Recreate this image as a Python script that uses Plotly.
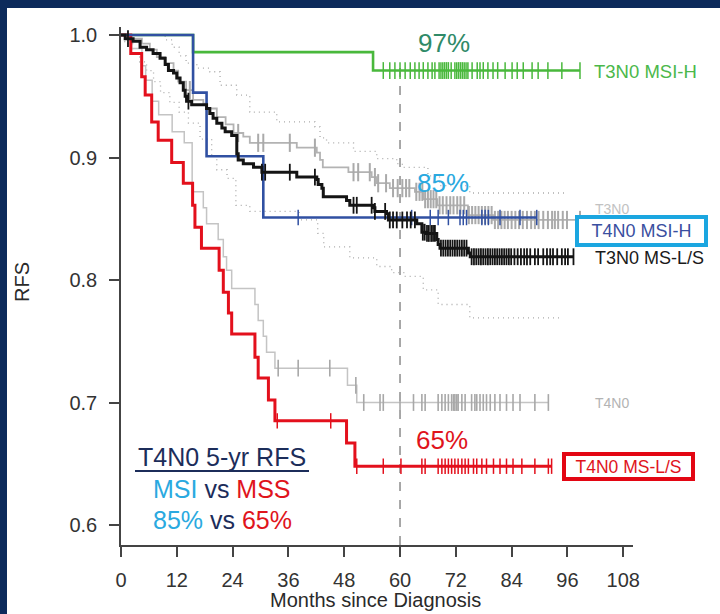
import bisect
import plotly.graph_objects as go

# ---------------- data ----------------
x_ticks = [0, 12, 24, 36, 48, 60, 72, 84, 96, 108]
y_ticks = [0.6, 0.7, 0.8, 0.9, 1.0]
y_tick_text = ["0.6", "0.7", "0.8", "0.9", "1.0"]

# T3N0 MSI-H (green)
green_t = [15.5, 54.2]
green_s = [0.986, 0.971]
green_end = 98.7
green_cens = [56.4, 57.8, 58.9, 60.0, 61.1, 62.2, 63.2, 64.1, 65.0, 66.0, 66.9, 67.5,
              68.4, 68.8, 69.2, 69.6, 70.0, 70.4, 71.0, 71.8, 72.2, 72.6, 73.0, 73.4,
              73.8, 74.2, 74.6, 75.5, 76.6, 77.2, 77.9, 78.9, 80.0, 81.0, 82.6, 84.1,
              85.2, 86.5, 88.4, 89.7, 91.8, 94.8, 98.7]

# T4N0 MSI-H (blue)
blue_t = [15.5, 18.4, 30.6]
blue_s = [0.953, 0.901, 0.851]
blue_end = 89.4
blue_cens = [38.1, 62.5, 66.5, 68.2, 70.4, 72.9, 73.6, 74.3, 77.6, 78.3, 79.0, 81.5,
             85.8, 89.4]

# T3N0 MS-L/S (black)
black_t = [0.9, 2.6, 4.1, 5.5, 6.9, 8.4, 9.5, 10.2, 11.3, 12.0, 12.7, 13.4, 13.8, 14.1,
           15.2, 18.4, 19.1, 19.8, 20.6, 21.7, 22.4, 23.8, 24.9, 25.2, 26.3, 28.5, 30.3,
           37.8, 42.1, 42.4, 43.2, 43.5, 48.5, 49.2, 54.3, 54.6, 57.1, 57.5, 63.6, 64.7,
           65.7, 67.9, 68.2, 68.6, 74.7, 75.1]
black_s = [0.997, 0.995, 0.990, 0.988, 0.985, 0.981, 0.976, 0.971, 0.969, 0.965, 0.961,
           0.955, 0.950, 0.946, 0.943, 0.940, 0.936, 0.932, 0.928, 0.924, 0.921, 0.918,
           0.903, 0.898, 0.895, 0.892, 0.888, 0.884, 0.882, 0.878, 0.875, 0.868, 0.865,
           0.861, 0.859, 0.856, 0.854, 0.849, 0.846, 0.839, 0.838, 0.833, 0.829, 0.826,
           0.822, 0.819]
black_end = 97.3
black_cens = [1.5, 14.5, 30.3, 31.0, 36.3, 41.7, 50.0, 50.7, 53.9, 54.6, 56.8, 57.8, 58.5,
              59.3, 60.5, 61.5, 62.3, 63.2, 64.9, 65.3, 65.8, 66.2, 66.7, 67.1, 67.5,
              68.8, 69.3, 69.8, 70.3, 70.8, 71.3, 71.8, 72.3, 72.8, 73.3, 73.8, 74.3,
              75.4, 75.9, 76.4, 76.9, 77.4, 77.9, 78.4, 78.9, 79.4, 79.9, 80.4, 80.9,
              81.4, 81.9, 82.4, 82.9, 83.4, 83.9, 84.6, 85.3, 86.0, 86.7, 87.3, 88.0,
              89.0, 89.7, 90.8, 91.6, 92.3, 92.9, 93.8, 94.8, 95.5, 96.1, 97.3]

# T4N0 MS-L/S (red)
red_t = [2.1, 4.45, 5.2, 6.6, 8.0, 10.9, 13.4, 15.4, 15.9, 17.3, 21.1, 22.0, 23.1, 23.8,
         28.8, 29.5, 31.7, 33.1, 48.5, 50.3]
red_s = [0.985, 0.966, 0.951, 0.929, 0.914, 0.896, 0.879, 0.861, 0.843, 0.826, 0.808,
         0.790, 0.773, 0.756, 0.737, 0.720, 0.702, 0.685, 0.667, 0.648]
red_end = 92.6
red_cens = [33.6, 45.1, 50.7, 56.4, 60.2, 64.7, 65.4, 68.2, 69.0, 69.7, 70.4, 71.1, 71.8,
            72.5, 73.3, 74.0, 74.7, 75.8, 76.5, 77.6, 78.6, 80.1, 81.5, 82.9, 84.3,
            86.2, 89.0, 91.9, 92.6]

# T3N0 overall (grey)
t3_t = [2.0, 4.5, 6.2, 7.7, 9.5, 11.3, 12.3, 14.0, 15.5, 17.7, 18.4, 20.6, 22.5, 24.2,
        26.3, 27.7, 37.8, 42.1, 42.8, 43.4, 48.9, 53.9, 55.0, 57.8, 63.2, 65.0, 68.0,
        74.6, 80.0]
t3_s = [0.997, 0.993, 0.988, 0.982, 0.977, 0.971, 0.962, 0.955, 0.947, 0.944, 0.940,
        0.933, 0.927, 0.920, 0.917, 0.912, 0.908, 0.904, 0.898, 0.892, 0.888, 0.884,
        0.879, 0.875, 0.872, 0.866, 0.861, 0.853, 0.849]
t3_end = 98.7
t3_cens = [14.8, 25.2, 29.5, 30.6, 36.3, 41.7, 50.0, 51.0, 53.5, 54.6, 55.3, 57.0, 58.5,
           59.5, 60.5, 61.3, 62.0, 63.5, 64.2, 64.8, 65.4, 66.0, 66.6, 67.2, 67.8, 68.5,
           69.2, 70.0, 70.8, 71.5, 72.3, 73.0, 73.8, 74.8, 75.5, 76.2, 76.9, 77.6, 78.3,
           79.0, 79.7, 80.4, 81.1, 81.8, 82.5, 83.2, 84.0, 84.8, 85.6, 86.4, 87.3, 88.2,
           89.0, 89.8, 90.8, 91.8, 92.7, 93.3, 94.0, 95.0, 95.9, 98.7]

# T4N0 overall (light grey)
t4_t = [2.3, 4.5, 5.3, 6.7, 8.1, 11.0, 13.6, 15.3, 17.7, 18.4, 20.9, 22.0, 22.7, 23.8,
        28.8, 29.5, 30.6, 31.3, 33.1, 48.7, 50.7]
t4_s = [0.989, 0.975, 0.963, 0.946, 0.935, 0.921, 0.912, 0.872, 0.859, 0.846, 0.833,
        0.819, 0.808, 0.793, 0.780, 0.767, 0.754, 0.741, 0.728, 0.714, 0.700]
t4_end = 91.9
t4_cens = [33.8, 38.1, 44.9, 50.5, 52.2, 55.7, 56.4, 60.0, 62.9, 64.7, 65.4, 68.2, 69.0,
           69.7, 70.4, 71.1, 71.5, 71.8, 72.2, 72.5, 73.3, 74.0, 75.4, 76.1, 76.5, 77.2,
           77.9, 78.6, 79.4, 80.4, 81.5, 82.9, 84.3, 85.8, 89.0, 91.9]

# T3N0 confidence band (dotted)
ciu_t = [9.5, 11.0, 12.5, 14.0, 16.3, 19.1, 21.3, 24.9, 27.7, 33.5, 41.7, 42.8, 44.2,
         50.0, 55.0, 59.3, 60.5, 66.0, 68.5, 75.0]
ciu_s = [0.996, 0.990, 0.983, 0.977, 0.973, 0.970, 0.959, 0.951, 0.937, 0.929, 0.925,
         0.916, 0.912, 0.905, 0.899, 0.895, 0.892, 0.885, 0.877, 0.871]
ciu_end = 95.5
cil_t = [0.8, 2.5, 4.0, 5.5, 7.0, 8.5, 10.5, 12.5, 14.5, 17.0, 19.5, 20.6, 22.8, 24.7,
         27.7, 38.3, 42.3, 43.6, 49.2, 55.0, 58.2, 61.0, 65.0, 68.2, 75.0]
cil_s = [0.993, 0.985, 0.978, 0.971, 0.962, 0.953, 0.945, 0.937, 0.928, 0.915, 0.901,
         0.890, 0.883, 0.861, 0.856, 0.849, 0.838, 0.827, 0.818, 0.811, 0.806, 0.803,
         0.792, 0.780, 0.769]
cil_end = 95.0

landmark_month = 60
landmark_top = 0.977

# ---------------- layout helpers ----------------
W, H = 720, 614
L, R, T, B = 121, 633, 27, 545          # plot-area pixel edges
PX_PER_UNIT = 1225.0
y_lo = 0.6 - (B - 525) / PX_PER_UNIT
y_hi = 1.0 + (35 - T) / PX_PER_UNIT
x_hi = 110.1

FONT = "Liberation Sans, Arial, Helvetica, sans-serif"
NAVY = "#0c2a5b"


def pxx(p):
    return (p - L) / (R - L)


def pxy(p):
    return (B - p) / (B - T)


def surv_at(t, times, surv):
    i = bisect.bisect_right(times, t)
    return 1.0 if i == 0 else surv[i - 1]


fig = go.Figure()


def add_curve(times, surv, end, color, width, dash="solid", cens=None,
              cens_size=10, cens_width=1.5, cens_color=None):
    xs = [0] + list(times) + [end]
    ys = [1.0] + list(surv) + [surv[-1]]
    fig.add_trace(go.Scatter(x=xs, y=ys, mode="lines", line_shape="hv",
                             line=dict(color=color, width=width, dash=dash),
                             hoverinfo="skip", showlegend=False))
    if cens:
        cy = [surv_at(t, times, surv) for t in cens]
        fig.add_trace(go.Scatter(x=cens, y=cy, mode="markers",
                                 marker=dict(symbol="line-ns", size=cens_size,
                                             line=dict(width=cens_width,
                                                       color=cens_color or color)),
                                 hoverinfo="skip", showlegend=False))


add_curve(ciu_t, ciu_s, ciu_end, "#a9a9a9", 1.3, dash="1px,4px")
add_curve(cil_t, cil_s, cil_end, "#a9a9a9", 1.3, dash="1px,4px")
add_curve(t3_t, t3_s, t3_end, "#b3b3b3", 1.8, cens=t3_cens, cens_size=13,
          cens_width=2, cens_color="#aaaaaa")
add_curve(t4_t, t4_s, t4_end, "#c4c4c4", 1.5, cens=t4_cens, cens_size=12,
          cens_width=1.6, cens_color="#a8a8a8")
add_curve(green_t, green_s, green_end, "#49b83c", 2.6, cens=green_cens, cens_size=12,
          cens_width=1.5)
add_curve(red_t, red_s, red_end, "#e3101c", 3, cens=red_cens, cens_size=11,
          cens_width=1.5)
add_curve(blue_t, blue_s, blue_end, "#3050a2", 2.6, cens=blue_cens, cens_size=11,
          cens_width=1.5)
add_curve(black_t, black_s, black_end, "#141414", 3, cens=black_cens, cens_size=12,
          cens_width=1.8)

shapes = [
    # 60-month landmark
    dict(type="line", xref="x", yref="y", x0=landmark_month, x1=landmark_month,
         y0=y_lo, y1=landmark_top, line=dict(color="#8c8c8c", width=1.5, dash="dash"),
         layer="below"),
    # underline of the inset title
    dict(type="line", xref="paper", yref="paper", x0=pxx(135), x1=pxx(309),
         y0=pxy(471), y1=pxy(471), line=dict(color="#1c2d5a", width=2)),
    # navy frame (top and left)
    dict(type="rect", xref="paper", yref="paper", x0=-1, x1=2, y0=pxy(8), y1=2,
         fillcolor=NAVY, line=dict(width=0)),
    dict(type="rect", xref="paper", yref="paper", x0=-1, x1=pxx(7), y0=-1, y1=2,
         fillcolor=NAVY, line=dict(width=0)),
]

ann = []


def label(text, x, y, size, color, xanchor="left", **kw):
    ann.append(dict(text=text, x=pxx(x), y=pxy(y), xref="paper", yref="paper",
                    xanchor=xanchor, yanchor="middle", showarrow=False,
                    font=dict(family=FONT, size=size, color=color), **kw))


label("97%", 444, 43, 26, "#2f8a68", xanchor="center")
label("85%", 443, 183, 26, "#2aa9e0", xanchor="center")
label("65%", 442, 440, 26, "#e0141c", xanchor="center")
label("T3N0 MSI-H", 592, 71, 18.5, "#4bb84a")
label("T3N0", 593, 209, 14, "#c2c2c2")
label("T4N0 MSI-H", 641.5, 231, 18, "#3a4fa0", xanchor="center",
      bordercolor="#1ba6e0", borderwidth=4, borderpad=0, bgcolor="white",
      width=125, height=24)
label("T3N0 MS-L/S", 593, 258, 18, "#1a1a1a")
label("T4N0", 593, 403, 14, "#b3b3b3")
label("T4N0 MS-L/S", 628.5, 466.5, 17.5, "#e0141c", xanchor="center",
      bordercolor="#e30613", borderwidth=4, borderpad=0, bgcolor="white",
      width=125, height=21)
label("T4N0 5-yr RFS", 222, 457, 25, "#1c2d5a", xanchor="center")
label("<span style='color:#2aa9e0'>MSI</span> vs <span style='color:#e0141c'>MSS</span>",
      222, 489, 25, "#1c2d5a", xanchor="center")
label("<span style='color:#2aa9e0'>85%</span> vs <span style='color:#e0141c'>65%</span>",
      222, 520, 25, "#1c2d5a", xanchor="center")
label("RFS", 22, 282, 20, "#2a2a2a", xanchor="center", textangle=-90)
label("Months since Diagnosis", 375, 600, 20, "#2a2a2a", xanchor="center")

fig.update_layout(
    width=W, height=H, autosize=False,
    margin=dict(l=L, r=W - R, t=T, b=H - B, pad=0),
    paper_bgcolor="white", plot_bgcolor="white",
    showlegend=False,
    shapes=shapes, annotations=ann,
    xaxis=dict(range=[0, x_hi], tickmode="array", tickvals=x_ticks,
               ticktext=[str(v) for v in x_ticks],
               showgrid=False, zeroline=False, showline=True, linecolor="#444",
               linewidth=1.5, ticks="outside", ticklen=10, tickwidth=1.5,
               tickcolor="#444", ticklabelstandoff=6,
               tickfont=dict(family=FONT, size=20, color="#333")),
    yaxis=dict(range=[y_lo, y_hi], tickmode="array", tickvals=y_ticks,
               ticktext=y_tick_text,
               showgrid=False, zeroline=False, showline=True, linecolor="#444",
               linewidth=1.5, ticks="outside", ticklen=10, tickwidth=1.5,
               tickcolor="#444", ticklabelstandoff=8,
               tickfont=dict(family=FONT, size=20, color="#333")),
)

fig.write_html("out.html")
